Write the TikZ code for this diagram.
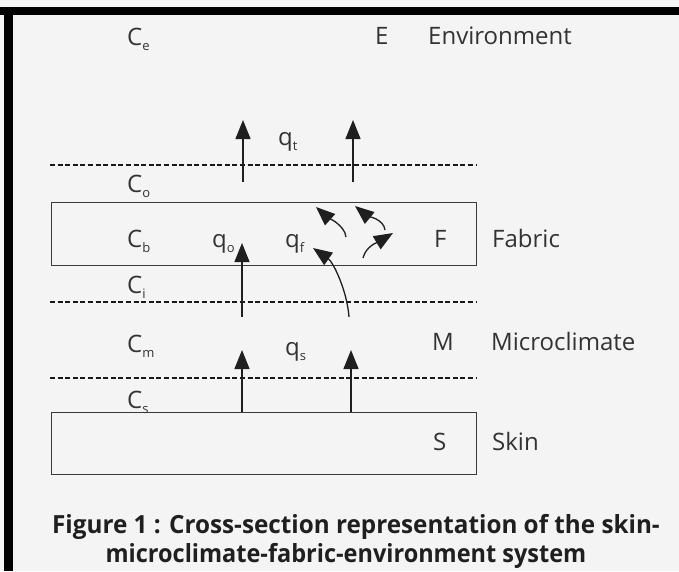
\documentclass[tikz,border=0pt]{standalone}
\usepackage{fontspec}
\setmainfont{Open Sans}
\usetikzlibrary{arrows.meta}
\definecolor{bg}{HTML}{F4F4F4}
\definecolor{ink}{HTML}{333333}
\definecolor{linec}{HTML}{3A3A3A}
\newcommand{\sbs}[1]{\raisebox{-5pt}{\fontsize{13}{13}\selectfont #1}}
\begin{document}
\begin{tikzpicture}[x=1pt,y=-1pt,
  lbl/.style={anchor=base west, inner sep=0pt, text=ink, font=\fontsize{24}{28}\selectfont},
  captext/.style={anchor=base, inner sep=0pt, text=black!88, font=\bfseries\fontsize{25}{30}\selectfont},
  layerbox/.style={draw=linec, line width=1.4pt, anchor=north west, inner sep=0pt, minimum width=425pt},
  dline/.style={draw=black!90, line width=2.6pt, dash pattern=on 5pt off 2.6pt},
  flow/.style={draw=black!88, line width=1.3pt, -{Triangle[length=19pt,width=15pt]}},
]
\useasboundingbox (0,0) rectangle (679,571);
\fill[bg] (0,0) rectangle (679,571);
% scanned frame
\fill[black] (0,7) rectangle (679,15);
\fill[black] (4,7) rectangle (13,571);

% boxes
\node[layerbox, minimum height=63pt] (fabric) at (51,202) {};
\node[layerbox, minimum height=62pt] (skin) at (51,412) {};

% dashed interfaces
\coordinate (d1w) at (50,165); \coordinate (d1e) at (476,165);
\coordinate (d2w) at (50,302); \coordinate (d2e) at (476,302);
\coordinate (d3w) at (50,378); \coordinate (d3e) at (476,378);
\draw[dline] (d1w) -- (d1e);
\draw[dline] (d2w) -- (d2e);
\draw[dline] (d3w) -- (d3e);

% labels
\node[lbl] (Ce) at (127,45) {C\sbs{e}};
\node[lbl] (E) at (375,44) {E};
\node[lbl] (Env) at (428,44) {Environment};
\node[lbl] (qt) at (278,145) {q\sbs{t}};
\node[lbl] (Co) at (127,192) {C\sbs{o}};
\node[lbl] (Cb) at (127,247) {C\sbs{b}};
\node[lbl] (qo) at (212,247) {q\sbs{o}};
\node[lbl] (qf) at (285,247) {q\sbs{f}};
\node[lbl] (F) at (434,247) {F};
\node[lbl] (Fab) at (492,247) {Fabric};
\node[lbl] (Ci) at (127,293) {C\sbs{i}};
\node[lbl] (Cm) at (127,352) {C\sbs{m}};
\node[lbl] (qs) at (285,355) {q\sbs{s}};
\node[lbl] (M) at (432,350) {M};
\node[lbl] (Mic) at (491,350) {Microclimate};
\node[lbl] (Cs) at (127,408) {C\sbs{s}};
\node[lbl] (S) at (433,450) {S};
\node[lbl] (Sk) at (492,450) {Skin};

% caption
\node[captext] (cap1) at (356,533) {\scalebox{0.97}[1]{Figure 1 : Cross-section representation of the skin-}};
\node[captext] (cap2) at (346,562) {\scalebox{0.94}[1]{microclimate-fabric-environment system}};

% straight flows
\coordinate (t1a) at (243,182); \coordinate (t1b) at (243,120);
\coordinate (t2a) at (353,182); \coordinate (t2b) at (353,120);
\draw[flow] (t1a) -- (t1b);
\draw[flow] (t2a) -- (t2b);
\coordinate (oa) at (242,317); \coordinate (ob) at (242,243);
\draw[flow] (oa) -- (ob);
\coordinate (s1a) at (242,412); \coordinate (s1b) at (242,350);
\coordinate (s2a) at (351,412); \coordinate (s2b) at (351,350);
\draw[flow] (s1a) -- (s1b);
\draw[flow] (s2a) -- (s2b);

% curved flows in fabric
\coordinate (aa) at (349,317); \coordinate (ab) at (313,248);
\draw[flow] (aa) .. controls (347,290) and (333,262) .. (ab);
\coordinate (ba) at (346,237); \coordinate (bb) at (316,207);
\draw[flow] (ba) .. controls (345,225) and (326,216) .. (bb);
\coordinate (ca) at (385,230); \coordinate (cb) at (355,206);
\draw[flow] (ca) .. controls (384,219) and (366,215) .. (cb);
\coordinate (da) at (363,258); \coordinate (db) at (393,233);
\draw[flow] (da) .. controls (366,246) and (378,242) .. (db);
\end{tikzpicture}
\end{document}
